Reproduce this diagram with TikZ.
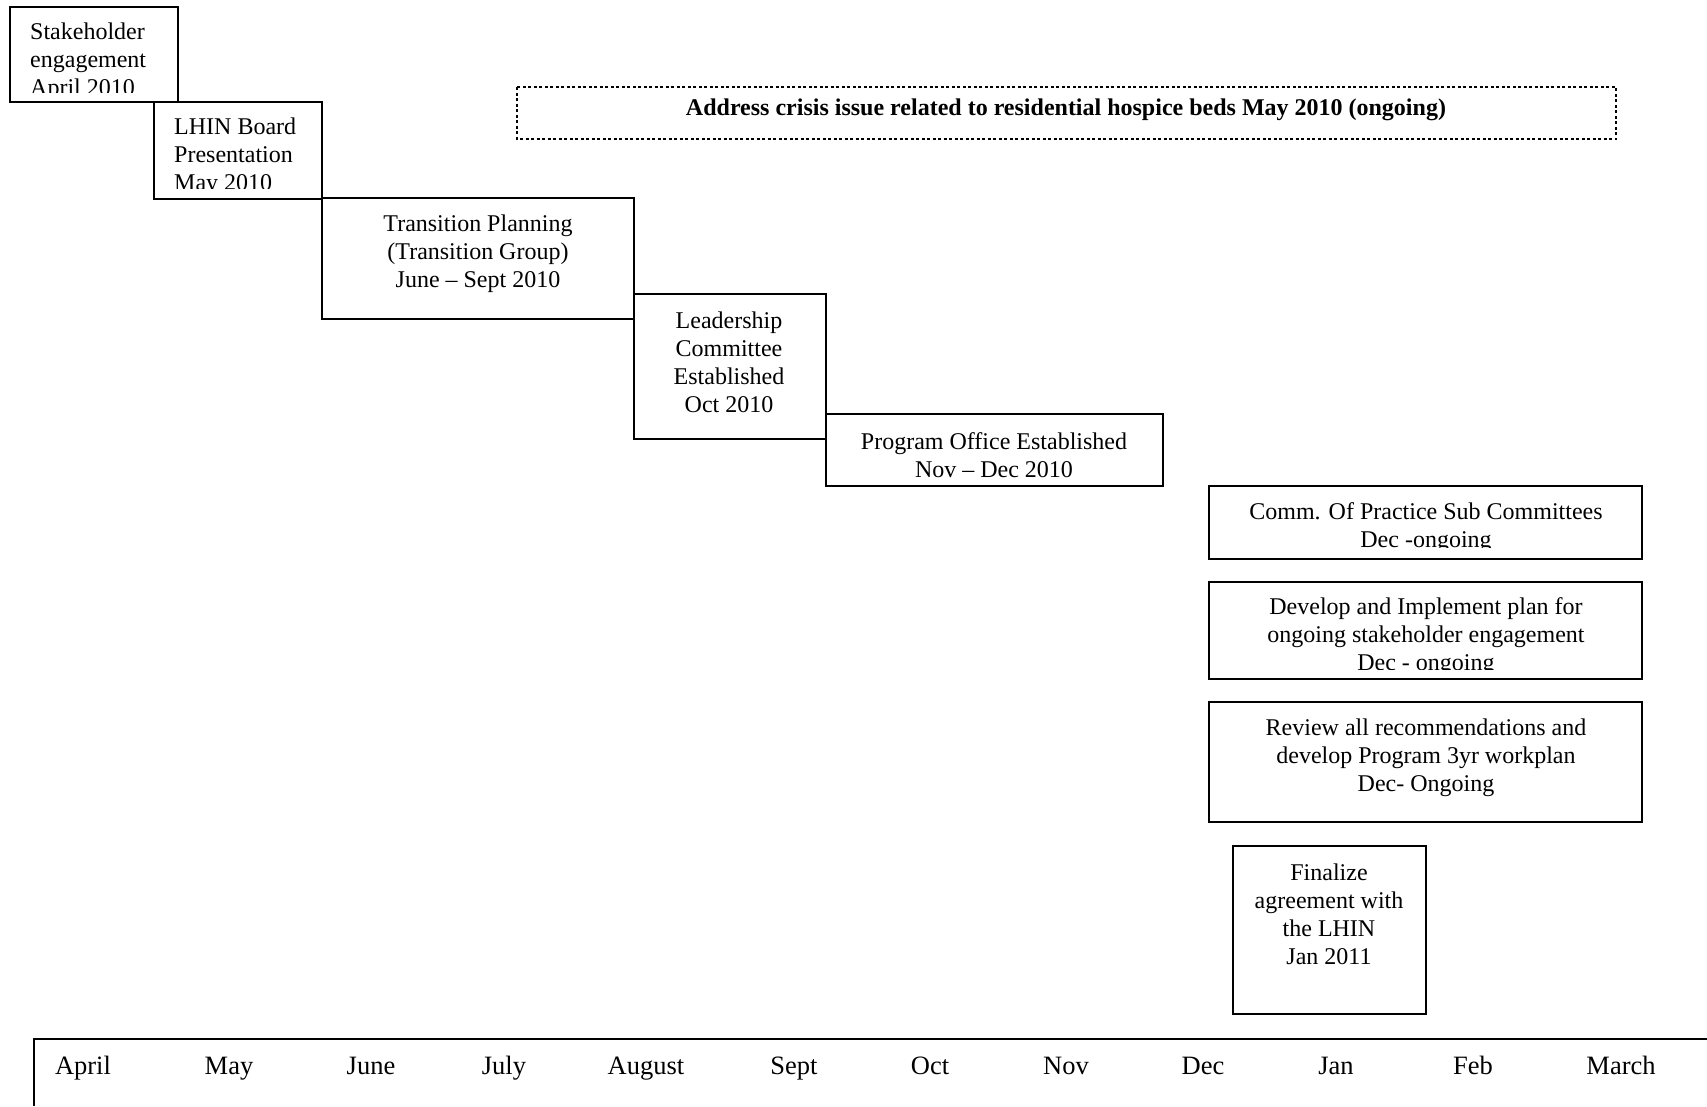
\documentclass[tikz,border=0pt]{standalone}
\usepackage{fontspec}
\setmainfont{Liberation Serif}
\begin{document}
\begin{tikzpicture}[x=1pt,y=-1pt,
  frame/.style={draw=black,line width=1.6pt},
  txt/.style={inner sep=0pt,font=\fontsize{24}{28}\selectfont},
  mon/.style={inner sep=0pt,anchor=base,font=\fontsize{26.5}{30}\selectfont}]
\useasboundingbox (0,0) rectangle (1707,1106);

% task boxes, stepping down the year
\draw[frame] (10,7) rectangle (178,102);
\begin{scope}\clip (12,9) rectangle (176,92);
\node[txt,align=left,anchor=west] (stake) at (30,62) {Stakeholder\\engagement\\April 2010};
\end{scope}

\draw[frame] (154,102) rectangle (322,199);
\begin{scope}\clip (156,104) rectangle (320,188);
\node[txt,align=left,anchor=west] (board) at (174,157) {LHIN Board\\Presentation\\May 2010};
\end{scope}

\draw[frame] (322,198) rectangle (634,319);
\node[txt,align=center] (trans) at (478,254) {Transition Planning\\(Transition Group)\\June -- Sept 2010};

\draw[frame] (634,294) rectangle (826,439);
\node[txt,align=center] (lead) at (729,362) {Leadership\\Committee\\Established\\Oct 2010};

\draw[frame] (826,414) rectangle (1163,486);
\node[txt,align=center] (office) at (994,455) {Program Office Established\\Nov -- Dec 2010};

\draw[frame] (1209,486) rectangle (1642,559);
\begin{scope}\clip (1211,488) rectangle (1640,547);
\node[txt,align=center] (comm) at (1426,528) {Comm. Of Practice Sub Committees\\Dec -ongoing};
\end{scope}

\draw[frame] (1209,582) rectangle (1642,679);
\begin{scope}\clip (1211,584) rectangle (1640,669);
\node[txt,align=center] (engage) at (1426,637) {Develop and Implement plan for\\ongoing stakeholder engagement\\Dec - ongoing};
\end{scope}

\draw[frame] (1209,702) rectangle (1642,822);
\node[txt,align=center] (review) at (1426,758) {Review all recommendations and\\develop Program 3yr workplan\\Dec- Ongoing};

\draw[frame] (1233,846) rectangle (1426,1014);
\node[txt,align=center] (final) at (1329,914) {Finalize\\agreement with\\the LHIN\\Jan 2011};

% ongoing crisis item
\draw[line width=1.2pt,dash pattern=on 3pt off 2.5pt] (517,87) rectangle (1616,139);
\node[inner sep=0pt,font=\fontsize{24}{28}\selectfont\bfseries] (crisis) at (1066,110) {Address crisis issue related to residential hospice beds May 2010 (ongoing)};

% month scale
\draw[line width=2pt] (1707,1039) -- (34,1039) -- (34,1106);
\foreach \m/\x in {April/83,May/229,June/371,July/504,August/646,Sept/794,Oct/930,Nov/1066,Dec/1203,Jan/1336,Feb/1473,March/1621}
  \node[mon] (m-\m) at (\x,1074) {\m};
\end{tikzpicture}
\end{document}
